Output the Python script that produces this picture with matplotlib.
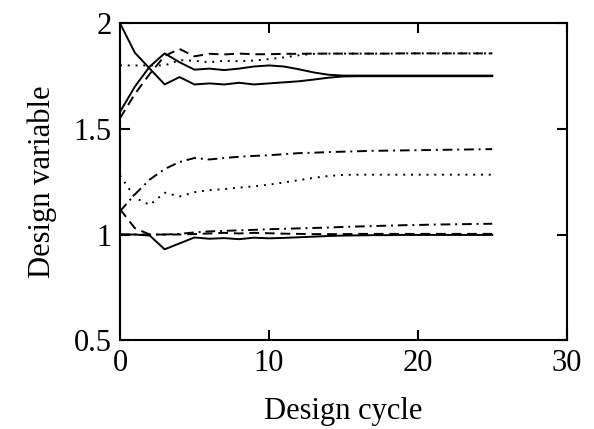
import numpy as np
import matplotlib
matplotlib.use('Agg')
import matplotlib.pyplot as plt

plt.rcParams['font.family'] = ['Liberation Serif', 'DejaVu Serif']

cycles = list(range(26))

# upper group
solid_a = [2.0, 1.86, 1.785, 1.71, 1.745, 1.71, 1.715, 1.71, 1.718, 1.71, 1.715, 1.72, 1.725,
           1.733, 1.742, 1.748, 1.749, 1.749, 1.749, 1.749, 1.749, 1.749, 1.749, 1.749, 1.749, 1.749]
solid_b = [1.58, 1.70, 1.795, 1.857, 1.815, 1.78, 1.785, 1.778, 1.785, 1.795, 1.80, 1.795, 1.782,
           1.767, 1.756, 1.752, 1.752, 1.752, 1.752, 1.752, 1.752, 1.752, 1.752, 1.752, 1.752, 1.752]
dashed_up = [1.55, 1.665, 1.76, 1.845, 1.878, 1.843, 1.855, 1.852, 1.856, 1.853, 1.853, 1.855, 1.855,
             1.856, 1.856, 1.856, 1.856, 1.856, 1.856, 1.857, 1.857, 1.857, 1.857, 1.857, 1.857, 1.857]
dotted_up = [1.8, 1.8, 1.8, 1.8, 1.825, 1.822, 1.815, 1.822, 1.82, 1.823, 1.83, 1.838, 1.848,
             1.855, 1.856, 1.856, 1.856, 1.856, 1.856, 1.857, 1.857, 1.857, 1.857, 1.857, 1.857, 1.857]

# middle group
dashdot_up = [1.11, 1.19, 1.26, 1.31, 1.343, 1.362, 1.355, 1.362, 1.368, 1.372, 1.375, 1.38, 1.385,
              1.387, 1.39, 1.392, 1.394, 1.396, 1.397, 1.398, 1.399, 1.40, 1.401, 1.402, 1.403, 1.404]
dotted_low = [1.28, 1.175, 1.14, 1.198, 1.18, 1.2, 1.21, 1.215, 1.222, 1.228, 1.236, 1.246, 1.257,
              1.268, 1.277, 1.282, 1.283, 1.283, 1.283, 1.283, 1.283, 1.283, 1.283, 1.283, 1.283, 1.283]

# lower group
dashed_low = [1.12, 1.03, 1.0, 1.0, 1.0, 1.002, 1.005, 1.008, 1.005, 1.008, 1.006, 1.004, 1.003,
              1.002, 1.002, 1.002, 1.003, 1.003, 1.003, 1.003, 1.003, 1.003, 1.003, 1.003, 1.003, 1.003]
dashdot_low = [1.0, 1.0, 1.0, 1.0, 1.003, 1.01, 1.015, 1.017, 1.02, 1.022, 1.025, 1.027, 1.029,
               1.031, 1.033, 1.036, 1.038, 1.04, 1.042, 1.044, 1.045, 1.047, 1.048, 1.049, 1.05, 1.051]
solid_low = [1.0, 1.0, 0.995, 0.93, 0.958, 0.986, 0.98, 0.983, 0.978, 0.985, 0.982, 0.984, 0.987,
             0.99, 0.993, 0.995, 0.996, 0.997, 0.997, 0.998, 0.998, 0.998, 0.998, 0.998, 0.998, 0.998]

fig = plt.figure(figsize=(5.94, 4.29), dpi=100)
ax = fig.add_axes([0.202, 0.207, 0.752, 0.739])

dash = (0, (5, 3))
dot = (0, (1, 3))
dashdot = (0, (5, 2.5, 1, 2.5))
lw = 1.4

ax.plot(cycles, solid_a, color='black', lw=lw, ls='-')
ax.plot(cycles, solid_b, color='black', lw=lw, ls='-')
ax.plot(cycles, dashed_up, color='black', lw=lw, ls=dash)
ax.plot(cycles, dotted_up, color='black', lw=lw, ls=dot)
ax.plot(cycles, dashdot_up, color='black', lw=lw, ls=dashdot)
ax.plot(cycles, dotted_low, color='black', lw=lw, ls=dot)
ax.plot(cycles, dashed_low, color='black', lw=lw, ls=dash)
ax.plot(cycles, dashdot_low, color='black', lw=lw, ls=dashdot)
ax.plot(cycles, solid_low, color='black', lw=lw, ls='-')

ax.set_xlim(0, 30)
ax.set_ylim(0.5, 2)
ax.set_xticks([0, 10, 20, 30])
ax.set_yticks([0.5, 1, 1.5, 2])
ax.set_yticklabels(['0.5', '1', '1.5', '2'])
ax.tick_params(direction='in', length=7, width=1.5, top=True, right=True,
               labelsize=22, pad=6)
for s in ax.spines.values():
    s.set_linewidth(1.5)

ax.set_xlabel('Design cycle', fontsize=22, labelpad=14)
ax.set_ylabel('Design variable', fontsize=22, labelpad=12)

fig.savefig('out.png', dpi=100)
